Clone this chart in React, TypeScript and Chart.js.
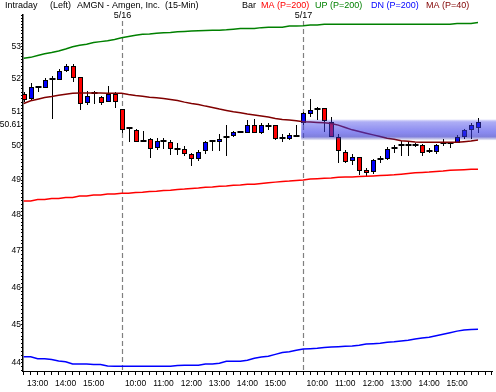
import React, { useEffect, useRef } from "react";
import { Chart, registerables } from "chart.js";
Chart.register(...registerables);

// ---- data ----
const barTimes = [
  "12:30","12:45","13:00","13:15","13:30","13:45","14:00","14:15","14:30","14:45","15:00","15:15","15:30","15:45",
  "9:30","9:45","10:00","10:15","10:30","10:45","11:00","11:15","11:30","11:45","12:00","12:15","12:30","12:45",
  "13:00","13:15","13:30","13:45","14:00","14:15","14:30","14:45","15:00","15:15","15:30","15:45",
  "9:30","9:45","10:00","10:15","10:30","10:45","11:00","11:15","11:30","11:45","12:00","12:15","12:30","12:45",
  "13:00","13:15","13:30","13:45","14:00","14:15","14:30","14:45","15:00","15:15","15:30","15:45",
];
const opens = [
  51.54, 51.42, 51.77, 51.77, 52.00, 52.00, 52.27, 52.40, 52.05, 51.30,
  51.57, 51.44, 51.33, 51.54, 51.08, 50.51, 50.48, 50.15, 50.20, 49.96,
  50.14, 50.11, 49.91, 49.91, 49.77, 49.65, 49.86, 50.13, 50.13, 50.26,
  50.33, 50.40, 50.42, 50.61, 50.42, 50.57, 50.60, 50.24, 50.24, 50.30,
  50.71, 50.97, 51.09, 51.11, 50.69, 50.25, 49.83, 49.58, 49.68, 49.29,
  49.25, 49.62, 49.65, 49.93, 50.03, 50.01, 50.03, 50.03, 49.85, 49.85,
  50.08, 50.08, 50.12, 50.29, 50.49, 50.54,
];
const highs = [
  51.61, 51.87, 51.78, 52.02, 52.08, 52.31, 52.46, 52.46, 52.05, 51.63,
  51.63, 51.49, 51.78, 51.61, 51.08, 50.52, 50.49, 50.44, 50.24, 50.22,
  50.24, 50.17, 50.08, 50.00, 49.79, 49.88, 50.14, 50.15, 50.34, 50.60,
  50.44, 50.42, 50.76, 50.78, 50.67, 50.67, 50.60, 50.35, 50.38, 50.60,
  51.00, 51.38, 51.16, 51.11, 50.84, 50.35, 49.88, 49.77, 49.68, 49.36,
  49.62, 49.70, 49.96, 50.03, 50.15, 50.13, 50.08, 50.06, 49.94, 50.06,
  50.20, 50.10, 50.32, 50.49, 50.67, 50.81,
];
const lows = [
  51.31, 51.33, 51.61, 51.72, 50.79, 51.97, 52.22, 51.92, 51.06, 51.21,
  51.24, 51.20, 51.31, 51.11, 50.37, 50.11, 50.11, 50.11, 49.65, 49.86,
  49.90, 49.74, 49.74, 49.71, 49.40, 49.55, 49.75, 49.85, 49.85, 49.70,
  50.26, 50.38, 50.37, 50.37, 50.35, 50.47, 50.17, 50.12, 50.17, 50.27,
  50.60, 50.86, 50.76, 50.40, 50.25, 49.50, 49.48, 49.45, 49.14, 49.11,
  49.17, 49.48, 49.59, 49.79, 49.71, 49.70, 49.97, 49.71, 49.78, 49.76,
  49.98, 49.92, 50.08, 50.20, 50.20, 50.37,
];
const closes = [
  51.39, 51.77, 51.77, 51.97, 52.00, 52.25, 52.40, 52.07, 51.26, 51.49,
  51.57, 51.29, 51.54, 51.34, 50.50, 50.51, 50.14, 50.15, 49.93, 50.14,
  50.14, 49.94, 49.91, 49.79, 49.65, 49.82, 50.11, 50.13, 50.21, 50.26,
  50.40, 50.40, 50.61, 50.42, 50.62, 50.57, 50.24, 50.24, 50.32, 50.30,
  50.96, 51.06, 51.09, 50.76, 50.29, 49.86, 49.55, 49.68, 49.29, 49.22,
  49.58, 49.62, 49.90, 49.93, 50.03, 50.01, 50.03, 49.81, 49.85, 50.03,
  50.08, 50.08, 50.25, 50.47, 50.60, 50.69,
];
const ma200 = [
  48.40, 48.40, 48.44, 48.44, 48.47, 48.47, 48.50, 48.50, 48.54, 48.54,
  48.57, 48.57, 48.60, 48.60, 48.62, 48.62, 48.64, 48.65, 48.67, 48.68,
  48.70, 48.71, 48.73, 48.74, 48.76, 48.77, 48.79, 48.80, 48.82, 48.83,
  48.85, 48.86, 48.88, 48.88, 48.90, 48.92, 48.94, 48.96, 48.97, 48.99,
  49.00, 49.03, 49.04, 49.05, 49.06, 49.08, 49.09, 49.09, 49.10, 49.11,
  49.12, 49.13, 49.14, 49.15, 49.17, 49.19, 49.21, 49.22, 49.23, 49.25,
  49.26, 49.28, 49.29, 49.30, 49.31, 49.31,
];
const up200 = [
  52.64, 52.67, 52.73, 52.78, 52.82, 52.87, 52.93, 53.00, 53.05, 53.08,
  53.13, 53.16, 53.19, 53.23, 53.28, 53.32, 53.36, 53.39, 53.40, 53.42,
  53.44, 53.45, 53.47, 53.48, 53.49, 53.50, 53.51, 53.52, 53.52, 53.53,
  53.55, 53.57, 53.57, 53.57, 53.60, 53.61, 53.61, 53.61, 53.65, 53.65,
  53.66, 53.68, 53.68, 53.71, 53.71, 53.71, 53.71, 53.71, 53.71, 53.71,
  53.71, 53.71, 53.71, 53.71, 53.71, 53.71, 53.71, 53.71, 53.71, 53.71,
  53.71, 53.71, 53.73, 53.73, 53.73, 53.76,
];
const dn200 = [
  44.16, 44.16, 44.11, 44.11, 44.09, 44.05, 44.03, 43.97, 43.97, 43.97,
  43.96, 43.96, 43.92, 43.91, 43.91, 43.91, 43.91, 43.91, 43.91, 43.91,
  43.91, 43.91, 43.93, 43.94, 43.94, 43.94, 43.97, 43.97, 43.99, 44.04,
  44.04, 44.04, 44.07, 44.12, 44.15, 44.17, 44.22, 44.27, 44.29, 44.33,
  44.36, 44.37, 44.38, 44.40, 44.41, 44.42, 44.43, 44.44, 44.46, 44.49,
  44.50, 44.51, 44.54, 44.55, 44.57, 44.59, 44.62, 44.65, 44.67, 44.71,
  44.75, 44.79, 44.83, 44.86, 44.87, 44.88,
];
const ma40 = [
  51.26, 51.34, 51.39, 51.44, 51.47, 51.51, 51.54, 51.57, 51.58, 51.58,
  51.58, 51.58, 51.57, 51.57, 51.57, 51.53, 51.50, 51.48, 51.45, 51.43,
  51.41, 51.38, 51.35, 51.30, 51.26, 51.23, 51.18, 51.14, 51.09, 51.05,
  51.01, 50.98, 50.94, 50.91, 50.88, 50.85, 50.81, 50.78, 50.76, 50.74,
  50.71, 50.70, 50.69, 50.68, 50.66, 50.61, 50.54, 50.47, 50.42, 50.37,
  50.32, 50.27, 50.22, 50.19, 50.15, 50.13, 50.11, 50.10, 50.10, 50.10,
  50.10, 50.10, 50.10, 50.12, 50.14, 50.17,
];
const yTickValues = [44, 45, 46, 47, 48, 49, 50, 51, 52, 53];
const lastPrice = 50.61;
const dayStartIndex = [14, 40];
const dayLabels = ["5/16", "5/17"];
const bandLow = 50.3;
const bandHigh = 50.72;
const bandStartIndex = 39.7;
const yMin = 43.79;
const yMax = 54;
const xMin = -0.1;
const xMax = 67.04;

const FONT = "'Liberation Sans', Arial, sans-serif";

const header = [
  { text: "Intraday", x: 5, color: "#000" },
  { text: "(Left)", x: 50, color: "#000" },
  { text: "AMGN - Amgen, Inc.  (15-Min)", x: 77, color: "#000" },
  { text: "Bar", x: 242, color: "#000" },
  { text: "MA (P=200)", x: 261, color: "#ff0000" },
  { text: "UP (P=200)", x: 315, color: "#008000" },
  { text: "DN (P=200)", x: 371, color: "#0000ff" },
  { text: "MA (P=40)", x: 426, color: "#800000" },
];

const candlePlugin = {
  id: "candles",
  beforeDatasetsDraw(chart: any) {
    const { ctx, scales, chartArea } = chart;
    const xs = scales.x;
    const ys = scales.y;
    ctx.save();
    // day separators
    ctx.strokeStyle = "#808080";
    ctx.lineWidth = 1.2;
    ctx.setLineDash([5, 3]);
    dayStartIndex.forEach((d) => {
      const px = Math.round(xs.getPixelForValue(d)) + 0.5;
      ctx.beginPath();
      ctx.moveTo(px, chartArea.top + 6);
      ctx.lineTo(px, chartArea.bottom);
      ctx.stroke();
    });
    ctx.setLineDash([]);
    for (let i = 0; i < opens.length; i++) {
      const cx = Math.round(xs.getPixelForValue(i)) + 0.5;
      const yH = ys.getPixelForValue(highs[i]);
      const yL = ys.getPixelForValue(lows[i]);
      const yO = ys.getPixelForValue(opens[i]);
      const yC = ys.getPixelForValue(closes[i]);
      ctx.strokeStyle = "#000";
      ctx.lineWidth = 1;
      ctx.beginPath();
      ctx.moveTo(cx, Math.round(yH));
      ctx.lineTo(cx, Math.round(yL));
      ctx.stroke();
      if (opens[i] === closes[i]) {
        ctx.fillStyle = "#000";
        ctx.fillRect(cx - 3, Math.round(yC) - 1, 6, 2);
      } else {
        const top = Math.round(Math.min(yO, yC)) + 0.5;
        const bot = Math.round(Math.max(yO, yC)) + 0.5;
        ctx.fillStyle = closes[i] > opens[i] ? "#0000ff" : "#ff0000";
        ctx.fillRect(cx - 2, top, 4, Math.max(bot - top, 1));
        ctx.strokeRect(cx - 2, top, 4, Math.max(bot - top, 1));
      }
    }
    ctx.restore();
  },
  afterDatasetsDraw(chart: any) {
    const { ctx, scales } = chart;
    const xs = scales.x;
    const ys = scales.y;
    const yTop = ys.getPixelForValue(bandHigh);
    const yBot = ys.getPixelForValue(bandLow);
    const x0 = xs.getPixelForValue(bandStartIndex);
    const t = yTop - 2;
    const b = yBot + 5;
    const g = ctx.createLinearGradient(0, t, 0, b);
    g.addColorStop(0, "rgba(60,60,230,0.12)");
    g.addColorStop(0.12, "rgba(60,60,230,0.42)");
    g.addColorStop(0.6, "rgba(60,60,230,0.6)");
    g.addColorStop(0.82, "rgba(50,50,200,0.62)");
    g.addColorStop(1, "rgba(60,60,160,0.02)");
    ctx.save();
    ctx.fillStyle = g;
    ctx.fillRect(x0, t, chart.width - x0, b - t);
    ctx.restore();
  },
  afterDraw(chart: any) {
    const { ctx, scales } = chart;
    const xs = scales.x;
    ctx.save();
    ctx.font = `9px ${FONT}`;
    ctx.textBaseline = "middle";
    ctx.textAlign = "left";
    header.forEach((h) => {
      ctx.fillStyle = h.color;
      ctx.fillText(h.text, h.x, 6);
    });
    ctx.fillStyle = "#000";
    ctx.textAlign = "center";
    dayStartIndex.forEach((d, k) => {
      ctx.fillText(dayLabels[k], Math.round(xs.getPixelForValue(d)) + 0.5, 16);
    });
    ctx.restore();
  },
};

export default function App() {
  const ref = useRef<HTMLCanvasElement>(null);
  useEffect(() => {
    const lineDs = (label: string, arr: number[], color: string) => ({
      type: "line" as const,
      label,
      data: arr.map((v, i) => ({ x: i, y: v })),
      borderColor: color,
      borderWidth: 1.5,
      pointRadius: 0,
      fill: false,
      tension: 0,
    });
    const chart = new Chart(ref.current as HTMLCanvasElement, {
      type: "line",
      data: {
        datasets: [
          lineDs("MA (P=200)", ma200, "#ff0000"),
          lineDs("UP (P=200)", up200, "#008000"),
          lineDs("DN (P=200)", dn200, "#0000ff"),
          lineDs("MA (P=40)", ma40, "#800000"),
        ],
      },
      options: {
        responsive: false,
        animation: false,
        events: [],
        layout: { padding: { top: 15, right: 3, left: 0, bottom: 0 } },
        plugins: { legend: { display: false }, tooltip: { enabled: false } },
        scales: {
          x: {
            type: "linear",
            min: xMin,
            max: xMax,
            afterBuildTicks: (scale: any) => {
              const t = [];
              for (let i = 0; i <= 67; i++) t.push({ value: i });
              scale.ticks = t;
            },
            afterFit: (scale: any) => {
              scale.height = 21;
            },
            ticks: {
              autoSkip: false,
              maxRotation: 0,
              padding: 4,
              color: "#000",
              font: { family: FONT, size: 8.5 },
              callback: (v: any) => {
                const t = barTimes[v as number];
                return t && t.endsWith(":00") ? t : "";
              },
            },
            grid: {
              drawOnChartArea: false,
              drawTicks: true,
              tickLength: 4,
              tickColor: "#000",
              tickWidth: 1,
            },
            border: { display: true, color: "#000", width: 1 },
          },
          y: {
            type: "logarithmic",
            min: yMin,
            max: yMax,
            afterBuildTicks: (scale: any) => {
              const t: any[] = [];
              for (let k = 438; k <= 540; k++) t.push({ value: k / 10 });
              t.push({ value: lastPrice });
              scale.ticks = t;
            },
            afterFit: (scale: any) => {
              scale.width = 23;
            },
            ticks: {
              autoSkip: false,
              padding: 0,
              color: "#000",
              font: { family: FONT, size: 8.5 },
              callback: (v: any) => {
                const n = Number(v);
                if (Math.abs(n - lastPrice) < 1e-6) return lastPrice.toFixed(2);
                const r = Math.round(n);
                if (Math.abs(n - r) < 1e-6 && yTickValues.includes(r)) return String(r);
                return "";
              },
            },
            grid: {
              drawOnChartArea: false,
              drawTicks: true,
              tickLength: 2,
              tickColor: "#000",
              tickWidth: 1,
            },
            border: { display: true, color: "#000", width: 1.5 },
          },
        },
      },
      plugins: [candlePlugin],
    } as any);
    return () => chart.destroy();
  }, []);
  return (
    <div style={{ position: "fixed", left: 0, top: 0, width: 496, height: 392, background: "#fff" }}>
      <canvas ref={ref} width={496} height={392} style={{ display: "block", width: 496, height: 392 }} />
    </div>
  );
}
